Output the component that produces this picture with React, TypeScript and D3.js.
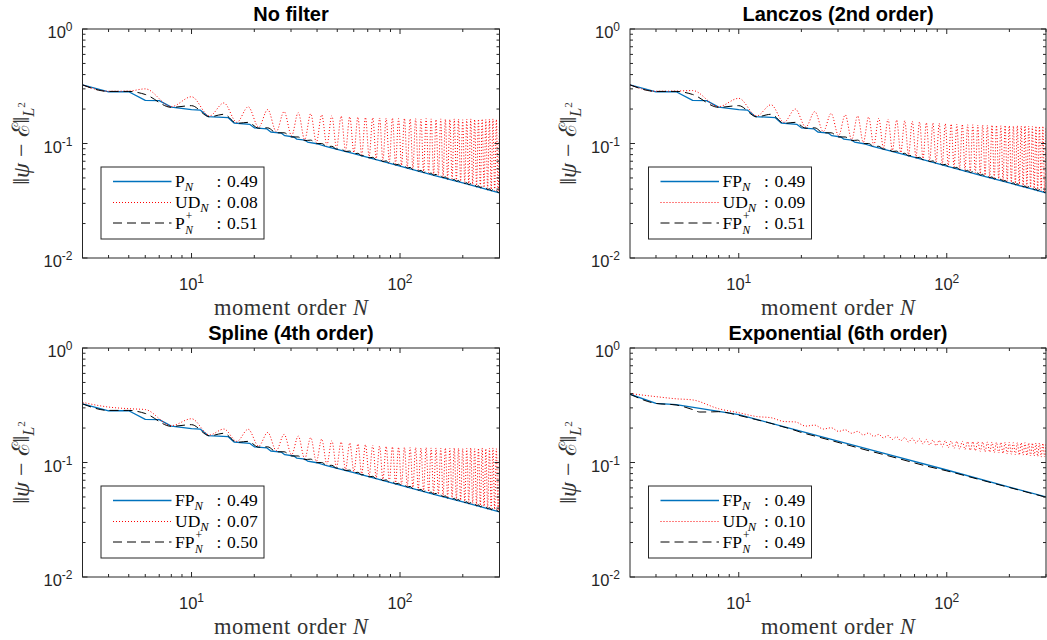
import React from 'react';
import * as d3 from 'd3';

// ---------------- axes ----------------
const xDomain: [number, number] = [3, 300];
const yDomain: [number, number] = [0.01, 1];
const xMajorTicks = [10, 100];
const xMajorExp = ['1', '2'];
const xMinorTicks = [4, 5, 6, 7, 8, 9, 20, 30, 40, 50, 60, 70, 80, 90, 200, 300];
const yMajorTicks = [0.01, 0.1, 1];
const yMajorExp = ['-2', '-1', '0'];
const yMinorTicks = [0.02, 0.03, 0.04, 0.05, 0.06, 0.07, 0.08, 0.09, 0.2, 0.3, 0.4, 0.5, 0.6, 0.7, 0.8, 0.9];

const panelTitles = ['No filter', 'Lanczos (2nd order)', 'Spline (4th order)', 'Exponential (6th order)'];
const legendBases = [
  ['P', 'UD', 'P'],
  ['FP', 'UD', 'FP'],
  ['FP', 'UD', 'FP'],
  ['FP', 'UD', 'FP'],
];
const legendRates = [
  ['0.49', '0.08', '0.51'],
  ['0.49', '0.09', '0.51'],
  ['0.49', '0.07', '0.50'],
  ['0.49', '0.10', '0.49'],
];

// ---------------- P_N / FP_N (panels 1-3) ----------------
const fpN = [3, 4, 5, 6, 7, 8, 10, 11, 12, 15, 16, 19, 20, 23, 24, 27, 28, 31, 32, 35, 36, 40, 44, 50, 60, 70, 80, 100, 120, 150, 200, 250, 300];
const fpStandard = [0.325, 0.283, 0.283, 0.238, 0.237, 0.208, 0.198, 0.196, 0.172, 0.168, 0.151, 0.147, 0.137, 0.134, 0.126, 0.123, 0.117, 0.114, 0.109, 0.107, 0.103, 0.0995, 0.0945, 0.089, 0.0815, 0.0756, 0.0708, 0.0634, 0.058, 0.052, 0.0452, 0.0405, 0.037];

// ---------------- oscillation positions (UD_N and P+_N) ----------------
const headN = [3, 4, 5];
const peakN = [6, 10, 14.3, 18.7, 23.2, 27.8, 32.5, 37.3, 42.1, 47.1, 52.2, 57.4, 62.8, 68.3, 74, 79.8, 85.8, 92, 98.4, 105, 111.8, 118.8, 126, 133.4, 141, 148.8, 156.8, 165, 173.4, 182, 190.8, 199.8, 209, 218.4, 228, 237.8, 247.8, 258, 268.4, 279, 289.8, 300];
const troughN = [8, 12.2, 16.5, 21, 25.5, 30.2, 34.9, 39.7, 44.6, 49.6, 54.8, 60.1, 65.5, 71.1, 76.9, 82.8, 88.9, 95.2, 101.7, 108.4, 115.3, 122.4, 129.7, 137.2, 144.9, 152.8, 160.9, 169.2, 177.7, 186.4, 195.3, 204.4, 213.7, 223.2, 232.9, 242.8, 252.9, 263.2, 273.7, 284.4, 295.3];

// UD_N
const udTroughs = [0.21, 0.174, 0.153, 0.139, 0.127, 0.117, 0.108, 0.102, 0.0965, 0.0915, 0.0872, 0.0834, 0.0799, 0.0768, 0.0739, 0.0713, 0.0688, 0.0666, 0.0644, 0.0625, 0.0606, 0.0588, 0.0571, 0.0556, 0.0542, 0.0528, 0.0515, 0.0502, 0.0491, 0.048, 0.0468, 0.0458, 0.0448, 0.0439, 0.0429, 0.0421, 0.0413, 0.0405, 0.0397, 0.0389, 0.0382];
const noFilterUDHead = [0.325, 0.286, 0.287];
const noFilterUDPeaks = [0.3, 0.256, 0.226, 0.209, 0.198, 0.19, 0.186, 0.182, 0.178, 0.175, 0.173, 0.171, 0.17, 0.169, 0.168, 0.167, 0.166, 0.167, 0.165, 0.166, 0.164, 0.165, 0.163, 0.165, 0.164, 0.162, 0.164, 0.163, 0.162, 0.164, 0.163, 0.161, 0.163, 0.164, 0.162, 0.163, 0.164, 0.162, 0.163, 0.164, 0.162, 0.163];
const lanczosUDHead = [0.325, 0.286, 0.287];
const lanczosUDPeaks = [0.29, 0.248, 0.218, 0.2, 0.19, 0.183, 0.178, 0.174, 0.17, 0.166, 0.163, 0.16, 0.158, 0.156, 0.154, 0.152, 0.151, 0.15, 0.149, 0.148, 0.147, 0.147, 0.146, 0.146, 0.145, 0.145, 0.144, 0.145, 0.144, 0.143, 0.144, 0.143, 0.142, 0.143, 0.142, 0.143, 0.142, 0.141, 0.142, 0.141, 0.142, 0.141];
const splineUDHead = [0.335, 0.305, 0.295];
const splineUDPeaks = [0.29, 0.241, 0.196, 0.195, 0.183, 0.176, 0.17, 0.165, 0.16, 0.155, 0.151, 0.148, 0.145, 0.143, 0.141, 0.139, 0.138, 0.137, 0.136, 0.136, 0.135, 0.135, 0.134, 0.135, 0.134, 0.134, 0.133, 0.134, 0.133, 0.134, 0.133, 0.132, 0.133, 0.134, 0.132, 0.133, 0.134, 0.132, 0.133, 0.134, 0.132, 0.133];

// P+_N (panels 1-3)
const plusHead = [0.325, 0.285, 0.285];
const plusPeaks = [0.268, 0.214, 0.18, 0.153, 0.137, 0.124, 0.114, 0.107, 0.1, 0.0945, 0.0898, 0.0858, 0.0821, 0.0787, 0.0757, 0.0729, 0.0705, 0.0681, 0.0658, 0.0638, 0.0619, 0.06, 0.0583, 0.0568, 0.0552, 0.0538, 0.0524, 0.0511, 0.0499, 0.0487, 0.0476, 0.0466, 0.0455, 0.0446, 0.0437, 0.0427, 0.0419, 0.0411, 0.0403, 0.0396, 0.0388, 0.0381];
const plusTroughs = [0.207, 0.171, 0.15, 0.136, 0.124, 0.114, 0.106, 0.0997, 0.0942, 0.0894, 0.0852, 0.0814, 0.078, 0.075, 0.0721, 0.0696, 0.0672, 0.065, 0.0629, 0.061, 0.0592, 0.0574, 0.0558, 0.0543, 0.0529, 0.0515, 0.0503, 0.049, 0.0479, 0.0468, 0.0457, 0.0447, 0.0437, 0.0428, 0.0419, 0.0411, 0.0403, 0.0395, 0.0387, 0.038, 0.0373];

// ---------------- Exponential panel ----------------
const expFPN = [3, 4, 5, 8, 10, 20, 30, 50, 100, 200, 300];
const expFP = [0.395, 0.328, 0.32, 0.28, 0.262, 0.187, 0.154, 0.12, 0.086, 0.061, 0.05];
const expPlusN = [3, 4, 5, 6, 6.5, 7.5, 8, 10, 12, 14, 16, 18, 20, 23, 26, 30, 35, 40, 50, 60, 80, 100, 150, 200, 300];
const expPlus = [0.395, 0.328, 0.318, 0.29, 0.276, 0.277, 0.278, 0.258, 0.238, 0.222, 0.207, 0.195, 0.183, 0.171, 0.161, 0.15, 0.139, 0.13, 0.117, 0.107, 0.093, 0.0845, 0.0695, 0.0605, 0.0497];
const expUDHead = [0.4, 0.376, 0.36];
const expUDPeaks = [0.352, 0.272, 0.246, 0.226, 0.212, 0.201, 0.193, 0.187, 0.181, 0.176, 0.172, 0.168, 0.165, 0.163, 0.161, 0.159, 0.157, 0.156, 0.155, 0.154, 0.153, 0.153, 0.152, 0.152, 0.152, 0.151, 0.151, 0.151, 0.15, 0.15, 0.15, 0.15, 0.149, 0.149, 0.149, 0.149, 0.148, 0.148, 0.148, 0.148, 0.147, 0.147];
const expUDTroughs = [0.295, 0.252, 0.228, 0.208, 0.196, 0.187, 0.18, 0.174, 0.169, 0.164, 0.159, 0.155, 0.151, 0.148, 0.145, 0.142, 0.14, 0.137, 0.135, 0.133, 0.131, 0.13, 0.128, 0.127, 0.125, 0.124, 0.123, 0.122, 0.121, 0.12, 0.119, 0.118, 0.117, 0.116, 0.116, 0.115, 0.114, 0.114, 0.113, 0.112, 0.112];

type Pt = [number, number];
const zip = (ns: number[], vs: number[]): Pt[] => ns.map((n, i) => [n, vs[i]]);
const oscill = (hV: number[], pV: number[], tV: number[]): Pt[] => {
  const out: Pt[] = zip(headN, hV);
  peakN.forEach((n, i) => {
    out.push([n, pV[i]]);
    if (i < troughN.length) out.push([troughN[i], tV[i]]);
  });
  return out;
};

const panelSeries = [
  { fp: zip(fpN, fpStandard), ud: oscill(noFilterUDHead, noFilterUDPeaks, udTroughs), plus: oscill(plusHead, plusPeaks, plusTroughs) },
  { fp: zip(fpN, fpStandard), ud: oscill(lanczosUDHead, lanczosUDPeaks, udTroughs), plus: oscill(plusHead, plusPeaks, plusTroughs) },
  { fp: zip(fpN, fpStandard), ud: oscill(splineUDHead, splineUDPeaks, udTroughs), plus: oscill(plusHead, plusPeaks, plusTroughs) },
  { fp: zip(expFPN, expFP), ud: oscill(expUDHead, expUDPeaks, expUDTroughs), plus: zip(expPlusN, expPlus) },
];

// ---------------- styling ----------------
const SANS = "'Liberation Sans', Arial, Helvetica, sans-serif";
const SERIF = "'Liberation Serif', 'Times New Roman', 'DejaVu Serif', serif";
const AXIS = '#262626';
const BLUE = '#0072BD';
const RED = '#ff0000';
const styles = [
  { stroke: BLUE, width: 1.3, dash: undefined as string | undefined, smooth: false },
  { stroke: RED, width: 1, dash: '1 2', smooth: true },
  { stroke: '#000', width: 1, dash: '9 5', smooth: true },
];

const boxes = [
  { left: 82.5, right: 499.5, top: 29, bottom: 258 },
  { left: 630, right: 1046, top: 29, bottom: 258 },
  { left: 82.5, right: 499.5, top: 348, bottom: 577 },
  { left: 630, right: 1046, top: 348, bottom: 577 },
];

let ctx: CanvasRenderingContext2D | null = null;
function measure(s: string, font: string): number {
  if (!ctx) ctx = document.createElement('canvas').getContext('2d');
  if (!ctx) return s.length * 9;
  ctx.font = font;
  return ctx.measureText(s).width;
}

function Panel({ idx }: { idx: number }) {
  const b = boxes[idx];
  const s = panelSeries[idx];
  const x = d3.scaleLog().domain(xDomain).range([b.left, b.right]);
  const y = d3.scaleLog().domain(yDomain).range([b.bottom, b.top]);
  const straight = d3.line<Pt>().x((d) => x(d[0])).y((d) => y(d[1]));
  const smooth = d3.line<Pt>().x((d) => x(d[0])).y((d) => y(d[1])).curve(d3.curveMonotoneX);
  const clipId = `clip${idx}`;
  const majorLen = 5;
  const minorLen = 3;
  const cx = (b.left + b.right) / 2;
  const cy = (b.top + b.bottom) / 2;
  const L = b.left + 18.5;
  const T = b.top + 138;
  const rows = [T + 14.5, T + 35.5, T + 56];
  const lfs = 17.5;
  const series = [s.fp, s.ud, s.plus];
  return (
    <g>
      <defs>
        <clipPath id={clipId}>
          <rect x={b.left} y={b.top} width={b.right - b.left} height={b.bottom - b.top} />
        </clipPath>
      </defs>
      <text x={cx} y={b.top - 8} textAnchor="middle" fontFamily={SANS} fontWeight="bold" fontSize={20} fill="#000">
        {panelTitles[idx]}
      </text>
      <g clipPath={`url(#${clipId})`}>
        {series.map((d, i) => (
          <path key={i} d={(styles[i].smooth ? smooth(d) : straight(d)) || ''} fill="none" stroke={styles[i].stroke} strokeWidth={styles[i].width} strokeDasharray={styles[i].dash} strokeLinejoin="round" />
        ))}
      </g>
      {/* ticks */}
      <g stroke={AXIS} strokeWidth={1}>
        {yMajorTicks.map((t) => (
          <g key={'ym' + t}>
            <line x1={b.left} x2={b.left + majorLen} y1={y(t)} y2={y(t)} />
            <line x1={b.right} x2={b.right - majorLen} y1={y(t)} y2={y(t)} />
          </g>
        ))}
        {yMinorTicks.map((t) => (
          <g key={'yn' + t}>
            <line x1={b.left} x2={b.left + minorLen} y1={y(t)} y2={y(t)} />
            <line x1={b.right} x2={b.right - minorLen} y1={y(t)} y2={y(t)} />
          </g>
        ))}
        {xMajorTicks.map((t) => (
          <g key={'xm' + t}>
            <line x1={x(t)} x2={x(t)} y1={b.bottom} y2={b.bottom - majorLen} />
            <line x1={x(t)} x2={x(t)} y1={b.top} y2={b.top + majorLen} />
          </g>
        ))}
        {xMinorTicks.map((t) => (
          <g key={'xn' + t}>
            <line x1={x(t)} x2={x(t)} y1={b.bottom} y2={b.bottom - minorLen} />
            <line x1={x(t)} x2={x(t)} y1={b.top} y2={b.top + minorLen} />
          </g>
        ))}
      </g>
      <rect x={b.left} y={b.top} width={b.right - b.left} height={b.bottom - b.top} fill="none" stroke={AXIS} strokeWidth={1} />
      {/* tick labels */}
      {yMajorTicks.map((t, i) => (
        <text key={'yl' + t} x={b.left - 10} y={y(t) + 9} textAnchor="end" fontFamily={SANS} fontSize={16.5} fill={AXIS}>
          10<tspan fontSize={12} dy={-7}>{yMajorExp[i]}</tspan>
        </text>
      ))}
      {xMajorTicks.map((t, i) => (
        <text key={'xl' + t} x={x(t)} y={b.bottom + 32} textAnchor="middle" fontFamily={SANS} fontSize={16.5} fill={AXIS}>
          10<tspan fontSize={12} dy={-7}>{xMajorExp[i]}</tspan>
        </text>
      ))}
      {/* axis labels */}
      <text x={cx} y={b.bottom + 57} textAnchor="middle" fontFamily={SERIF} fontSize={22.5} fill="#333" textLength={154} lengthAdjust="spacing">
        moment order <tspan fontStyle="italic">N</tspan>
      </text>
      <text transform={`translate(${b.left - 54},${cy}) rotate(-90)`} textAnchor="middle" fontFamily={SERIF} fontSize={24} fill="#333">
        ‖<tspan fontStyle="italic">ψ</tspan> − ℰ‖<tspan fontSize={16} fontStyle="italic" dy={5}>L</tspan>
        <tspan fontSize={11} dy={-9}>2</tspan>
      </text>
      {/* legend */}
      <rect x={L} y={T} width={163} height={72} fill="#fff" stroke={AXIS} strokeWidth={1} />
      {rows.map((ry, i) => {
        const base = legendBases[idx][i];
        const nx = L + 74;
        const w = measure(base, `${lfs}px 'Liberation Serif'`);
        return (
          <g key={'lg' + i}>
            <line x1={L + 12} x2={L + 70.5} y1={ry} y2={ry} stroke={styles[i].stroke} strokeWidth={styles[i].width} strokeDasharray={styles[i].dash} />
            <text x={nx} y={ry + 5.5} fontFamily={SERIF} fontSize={lfs} fill="#000">
              {base}
              {i === 2 ? (
                <>
                  <tspan x={nx + w + 1} dy={-8.5} fontSize={11.5}>+</tspan>
                  <tspan x={nx + w + 0.5} dy={13.5} fontSize={11.5} fontStyle="italic">N</tspan>
                </>
              ) : (
                <tspan dy={4} fontSize={12.5} fontStyle="italic">N</tspan>
              )}
            </text>
            <text x={L + 115.5} y={ry + 5.5} fontFamily={SERIF} fontSize={lfs} fill="#000">
              :<tspan x={L + 126}>{legendRates[idx][i]}</tspan>
            </text>
          </g>
        );
      })}
    </g>
  );
}

export default function App() {
  return (
    <svg width={1047} height={640} style={{ position: 'absolute', left: 0, top: 0, background: '#fff' }}>
      <rect x={0} y={0} width={1047} height={640} fill="#fff" />
      {[0, 1, 2, 3].map((i) => (
        <Panel key={i} idx={i} />
      ))}
    </svg>
  );
}
